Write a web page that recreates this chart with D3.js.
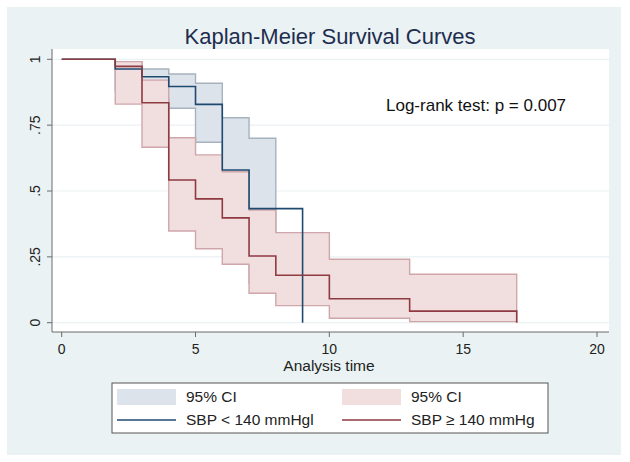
<!DOCTYPE html>
<html>
<head>
<meta charset="utf-8">
<script src="https://cdn.jsdelivr.net/npm/d3@7"></script>
<style>
  body { margin: 0; background: #fff; }
  text { font-family: "Liberation Sans", Arial, sans-serif; }
</style>
</head>
<body>
<div id="chart"></div>
<script>
// survival estimates (step after each time)
const lowTimes = [0, 2, 3, 4, 5, 6, 7, 9];
const lowSurv = [1, 0.963, 0.934, 0.897, 0.829, 0.580, 0.433, 0];
const highTimes = [0, 2, 3, 4, 5, 6, 7, 8, 10, 13, 17];
const highSurv = [1, 0.973, 0.835, 0.542, 0.470, 0.398, 0.253, 0.180, 0.091, 0.044, 0];

// 95% CI bands, last time closes the band
const lowCiTimes = [2, 3, 4, 5, 6, 7, 8];
const lowCiUpper = [0.99, 0.963, 0.944, 0.909, 0.778, 0.700];
const lowCiLower = [0.88, 0.85, 0.814, 0.685, 0.30, 0.15];
const highCiTimes = [2, 3, 4, 5, 6, 7, 8, 10, 13, 17];
const highCiUpper = [0.991, 0.921, 0.702, 0.637, 0.573, 0.428, 0.342, 0.241, 0.184];
const highCiLower = [0.830, 0.666, 0.348, 0.281, 0.222, 0.112, 0.065, 0.017, 0.004];

const xTicks = [0, 5, 10, 15, 20];
const yTicks = [0, 0.25, 0.5, 0.75, 1];
const yTickLabels = ["0", ".25", ".5", ".75", "1"];
const legendLabels = ["95% CI", "95% CI", "SBP < 140 mmHgl", "SBP \u2265 140 mmHg"];

const W = 630, H = 462;
const plot = { left: 52, right: 609, top: 49, bottom: 332 };

const navy = "#1f4a70", maroon = "#8e3a41";
const navyFill = "#dde3eb", maroonFill = "#f1dfe0";
const navyEdge = "#a7b2bf", maroonEdge = "#cfa6aa";

const svg = d3.select("#chart").append("svg")
    .attr("width", W).attr("height", H);

svg.append("rect").attr("x", 7).attr("y", 7)
    .attr("width", 614).attr("height", 448).attr("fill", "#eaf2f3");
svg.append("rect").attr("x", plot.left).attr("y", plot.top)
    .attr("width", plot.right - plot.left).attr("height", plot.bottom - plot.top)
    .attr("fill", "#fff");

const x = d3.scaleLinear().domain([0, 20]).range([61.7, 597]);
const y = d3.scaleLinear().domain([0, 1]).range([322.7, 59.3]);

// gridlines
svg.append("g").selectAll("line").data(yTicks).join("line")
    .attr("x1", plot.left).attr("x2", plot.right)
    .attr("y1", d => y(d)).attr("y2", d => y(d))
    .attr("stroke", "#eaf2f3").attr("stroke-width", 1.2);

// bands
function band(times, upper, lower, fill, edge) {
    const pts = times.map((t, i) => ({
        t, hi: upper[Math.min(i, upper.length - 1)], lo: lower[Math.min(i, lower.length - 1)]
    }));
    const area = d3.area().curve(d3.curveStepAfter)
        .x(d => x(d.t)).y0(d => y(d.lo)).y1(d => y(d.hi));
    svg.append("path").attr("d", area(pts))
        .attr("fill", fill).attr("stroke", edge).attr("stroke-width", 1.4);
}
band(lowCiTimes, lowCiUpper, lowCiLower, navyFill, navyEdge);
band(highCiTimes, highCiUpper, highCiLower, maroonFill, maroonEdge);

// survival lines
function km(times, surv, color) {
    const pts = times.map((t, i) => [t, surv[i]]);
    const line = d3.line().curve(d3.curveStepAfter)
        .x(d => x(d[0])).y(d => y(d[1]));
    svg.append("path").attr("d", line(pts))
        .attr("fill", "none").attr("stroke", color).attr("stroke-width", 1.6);
}
km(lowTimes, lowSurv, navy);
km(highTimes, highSurv, maroon);

// axes
const axisColor = "#6b6b6b";
svg.append("line").attr("x1", plot.left).attr("x2", plot.left)
    .attr("y1", plot.top).attr("y2", plot.bottom).attr("stroke", axisColor);
svg.append("line").attr("x1", plot.left).attr("x2", plot.right)
    .attr("y1", plot.bottom).attr("y2", plot.bottom).attr("stroke", axisColor);

const xg = svg.append("g").selectAll("g").data(xTicks).join("g")
    .attr("transform", d => `translate(${x(d)},${plot.bottom})`);
xg.append("line").attr("y2", 5).attr("stroke", axisColor);
xg.append("text").attr("y", 22).attr("text-anchor", "middle")
    .attr("font-size", 14).attr("fill", "#222").text(d => d);

const yg = svg.append("g").selectAll("g").data(yTicks).join("g")
    .attr("transform", d => `translate(${plot.left},${y(d)})`);
yg.append("line").attr("x2", -5).attr("stroke", axisColor);
yg.append("text").attr("transform", "translate(-12,0) rotate(-90)")
    .attr("text-anchor", "middle").attr("font-size", 14).attr("fill", "#222")
    .text((d, i) => yTickLabels[i]);

svg.append("text").attr("x", 329).attr("y", 371).attr("text-anchor", "middle")
    .attr("font-size", 15.5).attr("fill", "#222").text("Analysis time");

svg.append("text").attr("x", 330).attr("y", 44).attr("text-anchor", "middle")
    .attr("font-size", 22).attr("fill", "#1e2d4f").text("Kaplan-Meier Survival Curves");

svg.append("text").attr("x", 386).attr("y", 111)
    .attr("font-size", 17).attr("fill", "#111").text("Log-rank test: p = 0.007");

// legend
svg.append("rect").attr("x", 112).attr("y", 383).attr("width", 436).attr("height", 50)
    .attr("fill", "#fff").attr("stroke", "#555");
const legendItems = [
    { kind: "area", color: navyFill, cx: 117, cy: 397 },
    { kind: "area", color: maroonFill, cx: 342, cy: 397 },
    { kind: "line", color: navy, cx: 117, cy: 420 },
    { kind: "line", color: maroon, cx: 342, cy: 420 }
];
legendItems.forEach((d, i) => {
    if (d.kind === "area") {
        svg.append("rect").attr("x", d.cx).attr("y", d.cy - 8)
            .attr("width", 59).attr("height", 16).attr("fill", d.color);
    } else {
        svg.append("line").attr("x1", d.cx).attr("x2", d.cx + 59)
            .attr("y1", d.cy).attr("y2", d.cy)
            .attr("stroke", d.color).attr("stroke-width", 1.6);
    }
    svg.append("text").attr("x", d.cx + 69).attr("y", d.cy + 5)
        .attr("font-size", 15.5).attr("fill", "#222").text(legendLabels[i]);
});
</script>
</body>
</html>
